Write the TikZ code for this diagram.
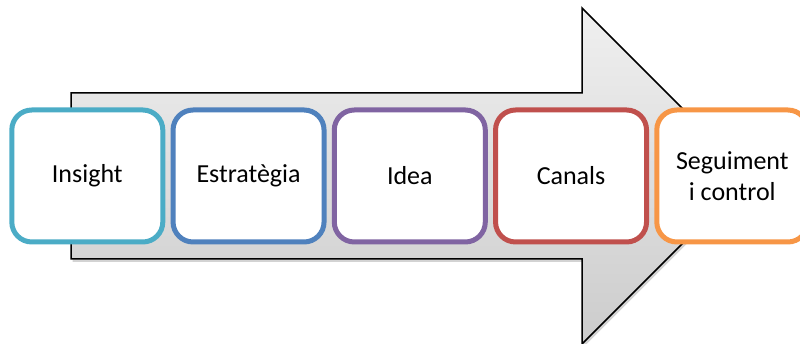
\documentclass[tikz,border=0pt]{standalone}
\usepackage{fontspec}
\setmainfont{Carlito}
\usetikzlibrary{positioning,shadows}
\definecolor{cinsight}{HTML}{4BACC6}
\definecolor{cestrat}{HTML}{4F81BD}
\definecolor{cidea}{HTML}{8064A2}
\definecolor{ccanals}{HTML}{C0504D}
\definecolor{ccontrol}{HTML}{F79646}

\begin{document}
\begin{tikzpicture}[x=1pt,y=1pt,every node/.style={font=\fontsize{26}{31}\selectfont},
  stage/.style={draw,line width=5pt,fill=white,rounded corners=20pt,minimum width=151pt,minimum height=132pt,outer sep=0pt,align=center},
  node distance=10.25pt]
\useasboundingbox(0,0)rectangle(800,344);
% big arrow behind the stages
\coordinate(b1) at(71,85);\coordinate(b2) at(582,85);\coordinate(h1) at(582,0);\coordinate(tip) at(750,168);
\coordinate(h2) at(582,336);\coordinate(t2) at(582,251);\coordinate(t1) at(71,251);
\draw[line width=1.5pt,top color=gray!12,bottom color=gray!40,
  drop shadow={opacity=.35,shadow xshift=1.5pt,shadow yshift=-3pt}]
  (b1)--(b2)--(h1)--(tip)--(h2)--(t2)--(t1)--cycle;
% stages
\node[stage,draw=cinsight](ins) at(87.3,168){Insight};
\node[stage,draw=cestrat,right=of ins](est){Estratègia};
\node[stage,draw=cidea,right=of est](idea){Idea};
\node[stage,draw=ccanals,right=of idea](can){Canals};
\node[stage,draw=ccontrol,right=of can](ctl){Seguiment\\i control};
\end{tikzpicture}
\end{document}
